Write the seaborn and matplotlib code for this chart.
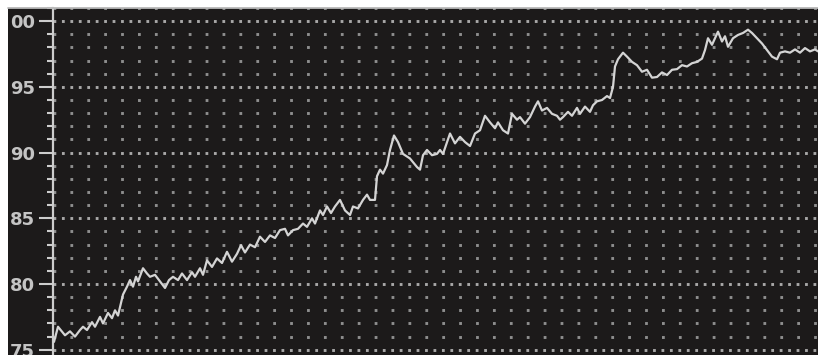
import matplotlib
matplotlib.use("Agg")
import matplotlib.pyplot as plt
import seaborn as sns
import pandas as pd
from matplotlib.ticker import MultipleLocator, FixedLocator, FixedFormatter
from matplotlib.patches import Rectangle
from matplotlib.lines import Line2D

# Series: time step and index level
t = [0, 4, 11, 16, 21, 26, 29, 33, 38, 41, 46, 49, 54, 58, 61, 64, 69, 73, 76, 79,
     82, 84, 89, 93, 96, 101, 106, 111, 115, 119, 124, 128, 133, 138, 141, 146, 149, 153, 158, 163,
     168, 173, 178, 183, 187, 191, 196, 201, 206, 211, 216, 221, 226, 231, 234, 239, 244, 249, 253, 258,
     261, 266, 269, 273, 277, 281, 286, 291, 296, 299, 304, 309, 313, 316, 321, 323, 326, 329, 333, 336,
     340, 344, 349, 356, 363, 366, 369, 373, 378, 383, 386, 389, 396, 401, 406, 411, 416, 421, 426, 431,
     436, 441, 444, 449, 454, 458, 463, 466, 471, 476, 481, 484, 488, 493, 498, 503, 506, 509, 514, 518,
     523, 526, 531, 536, 539, 543, 548, 553, 556, 559, 561, 564, 569, 573, 578, 583, 588, 593, 598, 603,
     608, 613, 618, 623, 628, 633, 638, 643, 648, 651, 654, 658, 661, 664, 668, 671, 674, 679, 684, 689,
     694, 698, 703, 708, 713, 718, 723, 726, 731, 736, 741, 746, 751, 756, 761, 764, 770]

level = [75.6, 76.75, 76.1, 76.4, 76.0, 76.5, 76.75, 76.5, 77.1, 76.75, 77.5, 77.0, 77.8, 77.4, 78.0, 77.6, 79.2, 79.8, 80.3, 79.8,
         80.55, 80.2, 81.2, 80.8, 80.55, 80.7, 80.2, 79.7, 80.3, 80.55, 80.3, 80.8, 80.3, 80.9, 80.55, 81.2, 80.7, 81.8, 81.3, 81.95,
         81.6, 82.45, 81.7, 82.3, 82.95, 82.4, 83.0, 82.8, 83.6, 83.2, 83.7, 83.5, 84.1, 84.2, 83.7, 84.1, 84.2, 84.6, 84.35, 85.0,
         84.6, 85.6, 85.25, 85.9, 85.4, 85.9, 86.4, 85.6, 85.25, 85.9, 85.75, 86.4, 86.8, 86.4, 86.4, 88.2, 88.7, 88.4, 89.05, 90.2,
         91.3, 90.8, 89.9, 89.55, 88.9, 88.7, 89.8, 90.2, 89.8, 89.9, 90.2, 89.9, 91.45, 90.7, 91.2, 90.8, 90.5, 91.45, 91.7, 92.8,
         92.3, 91.85, 92.3, 91.7, 91.45, 92.95, 92.5, 92.7, 92.2, 92.7, 93.5, 93.9, 93.2, 93.4, 92.95, 92.8, 92.5, 92.7, 93.1, 92.8,
         93.4, 92.95, 93.5, 93.1, 93.6, 93.9, 94.0, 94.3, 94.15, 95.0, 96.55, 97.1, 97.6, 97.3, 96.9, 96.65, 96.15, 96.3, 95.7, 95.75,
         96.1, 95.9, 96.3, 96.35, 96.65, 96.55, 96.8, 96.9, 97.15, 97.8, 98.7, 98.2, 98.7, 99.2, 98.45, 98.85, 98.05, 98.7, 98.95, 99.1,
         99.35, 99.1, 98.7, 98.3, 97.8, 97.3, 97.1, 97.6, 97.7, 97.6, 97.85, 97.6, 97.95, 97.7, 97.85, 97.7, 97.8]

y_ticks = [75, 80, 85, 90, 95, 100]
y_tick_labels = ["75", "80", "85", "90", "95", "00"]

BG = "#1c1a1a"
FG = "#cdcdcd"

sns.set_style("dark")
plt.rcParams["font.family"] = ["DejaVu Sans"]
plt.rcParams["lines.scale_dashes"] = False

df = pd.DataFrame({"t": t, "level": level})

fig = plt.figure(figsize=(8.18, 3.55), dpi=100, facecolor="white")
W, H = 818.0, 355.0

# dark panel with a light top rule
fig.add_artist(Rectangle((8 / W, 0), 1 - 8 / W, 1 - 8 / H, transform=fig.transFigure,
                         facecolor=BG, edgecolor="none", zorder=0))
fig.add_artist(Line2D([8 / W, 1], [1 - 8 / H, 1 - 8 / H], transform=fig.transFigure,
                      color="#b8b8b8", linewidth=1.3, zorder=1))

ax = fig.add_axes([53 / W, 0, 765 / W, 1 - 8 / H])
ax.set_facecolor(BG)

sns.lineplot(data=df, x="t", y="level", ax=ax, color="#d4d4d4", linewidth=1.6, zorder=3)

ax.set_xlim(-1, 764)
ax.set_ylim(74.6, 101.0)
ax.set_xlabel("")
ax.set_ylabel("")

ax.yaxis.set_major_locator(FixedLocator(y_ticks))
ax.yaxis.set_major_formatter(FixedFormatter(y_tick_labels))
ax.yaxis.set_minor_locator(MultipleLocator(1))

# dotted grid: dense dots on the major levels, sparse dots on every unit
ax.grid(False)
ax.grid(which="major", axis="y", color="#a8a8a8", linewidth=2.1,
        linestyle=(0, (2.0, 4.08)))
ax.grid(which="minor", axis="y", color="#8e8e8e", linewidth=2.1,
        linestyle=(0, (2.0, 10.17)))
ax.set_axisbelow(True)

ax.tick_params(axis="x", bottom=False, labelbottom=False)
ax.tick_params(axis="y", which="major", left=True, length=10, width=1.5, color=FG,
               labelcolor="#c4c4c4", labelsize=13, pad=3)
ax.tick_params(axis="y", which="minor", left=True, length=4.5, width=1.5, color=FG)
for lbl in ax.get_yticklabels():
    lbl.set_fontweight("bold")

for side in ("top", "right", "bottom"):
    ax.spines[side].set_visible(False)
ax.spines["left"].set_color(FG)
ax.spines["left"].set_linewidth(1.6)

fig.savefig("out.png", dpi=100, facecolor="white")
